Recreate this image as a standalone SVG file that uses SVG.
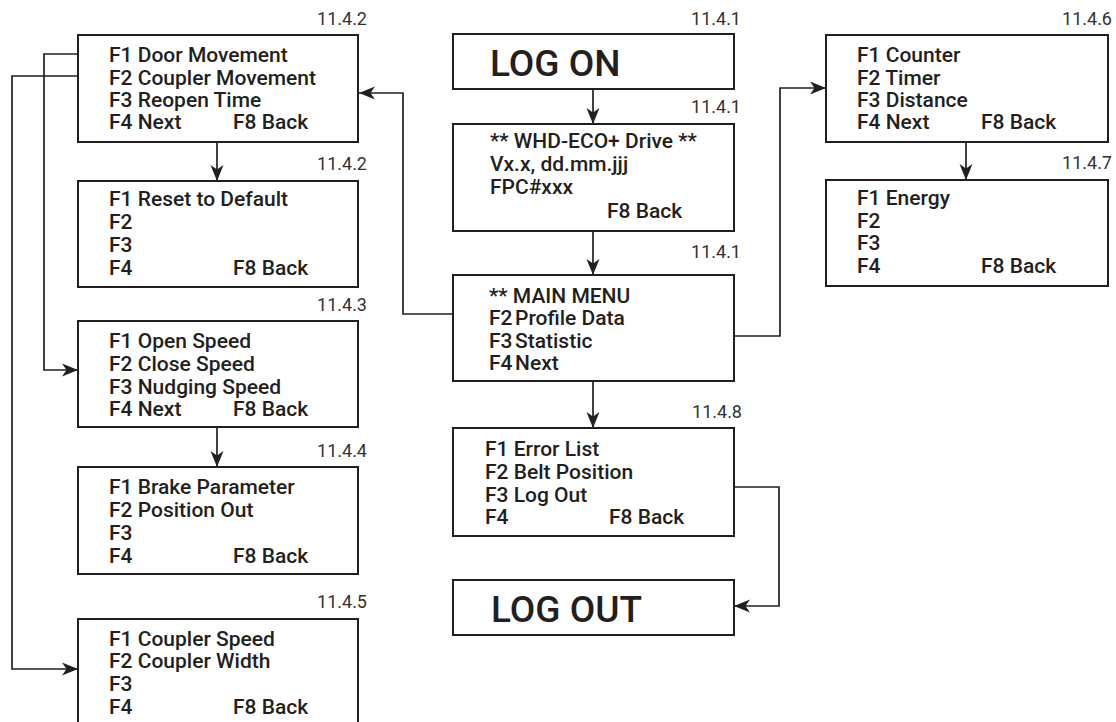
<svg xmlns="http://www.w3.org/2000/svg" width="1116" height="722" viewBox="0 0 1116 722">
  <style>
    .box { fill: #ffffff; stroke: #231f20; stroke-width: 2; }
    .wire { fill: none; stroke: #231f20; stroke-width: 1.7; }
    .t { font-family: Roboto, "Liberation Sans", sans-serif; font-weight: 500; font-size: 21px; fill: #231f20; }
    .big { font-family: Roboto, "Liberation Sans", sans-serif; font-weight: 500; font-size: 37px; fill: #231f20; }
    .ref { font-family: Roboto, "Liberation Sans", sans-serif; font-weight: 400; font-size: 18px; fill: #333333; text-anchor: end; }
  </style>
  <defs>
    <marker id="arrow" viewBox="-18 -8 19 16" refX="0" refY="0" markerWidth="19" markerHeight="16" markerUnits="userSpaceOnUse" orient="auto">
      <path d="M0,0 L-16,-6.5 L-11.5,0 L-16,6.5 Z" fill="#231f20"/>
    </marker>
  </defs>
  <rect width="1116" height="722" fill="#ffffff"/>

  <!-- connectors -->
  <g id="connectors">
    <line class="wire" x1="593" y1="89" x2="593" y2="124" marker-end="url(#arrow)"/>
    <line class="wire" x1="593" y1="231" x2="593" y2="275" marker-end="url(#arrow)"/>
    <line class="wire" x1="593" y1="381" x2="593" y2="428" marker-end="url(#arrow)"/>
    <line class="wire" x1="217" y1="142" x2="217" y2="181" marker-end="url(#arrow)"/>
    <line class="wire" x1="217" y1="427" x2="217" y2="467" marker-end="url(#arrow)"/>
    <line class="wire" x1="966" y1="142" x2="966" y2="180" marker-end="url(#arrow)"/>
    <polyline class="wire" points="453,314 403,314 403,93 359,93" marker-end="url(#arrow)"/>
    <polyline class="wire" points="734,336 780,336 780,88 826,88" marker-end="url(#arrow)"/>
    <polyline class="wire" points="734,487 779,487 779,606 734,606" marker-end="url(#arrow)"/>
    <polyline class="wire" points="78,54 44,54 44,370 78,370" marker-end="url(#arrow)"/>
    <polyline class="wire" points="78,76 12,76 12,669 78,669" marker-end="url(#arrow)"/>
  </g>

  <!-- left column -->
  <g id="door-menu">
    <rect class="box" x="78" y="35" width="280" height="107"/>
    <text class="ref" x="367" y="25">11.4.2</text>
    <text class="t" x="109" y="62">F1 Door Movement</text>
    <text class="t" x="109" y="85">F2 Coupler Movement</text>
    <text class="t" x="109" y="107">F3 Reopen Time</text>
    <text class="t" x="109" y="129">F4 Next</text>
    <text class="t" x="233" y="129">F8 Back</text>
  </g>
  <g id="reset-menu">
    <rect class="box" x="78" y="181" width="280" height="106"/>
    <text class="ref" x="367" y="170">11.4.2</text>
    <text class="t" x="109" y="206">F1 Reset to Default</text>
    <text class="t" x="109" y="229">F2</text>
    <text class="t" x="109" y="252">F3</text>
    <text class="t" x="109" y="275">F4</text>
    <text class="t" x="233" y="275">F8 Back</text>
  </g>
  <g id="speed-menu">
    <rect class="box" x="78" y="321" width="280" height="106"/>
    <text class="ref" x="367" y="311">11.4.3</text>
    <text class="t" x="109" y="348">F1 Open Speed</text>
    <text class="t" x="109" y="371">F2 Close Speed</text>
    <text class="t" x="109" y="394">F3 Nudging Speed</text>
    <text class="t" x="109" y="416">F4 Next</text>
    <text class="t" x="233" y="416">F8 Back</text>
  </g>
  <g id="brake-menu">
    <rect class="box" x="78" y="467" width="280" height="107"/>
    <text class="ref" x="367" y="457">11.4.4</text>
    <text class="t" x="109" y="494">F1 Brake Parameter</text>
    <text class="t" x="109" y="517">F2 Position Out</text>
    <text class="t" x="109" y="540">F3</text>
    <text class="t" x="109" y="563">F4</text>
    <text class="t" x="233" y="563">F8 Back</text>
  </g>
  <g id="coupler-menu">
    <rect class="box" x="78" y="619" width="280" height="110"/>
    <text class="ref" x="367" y="608">11.4.5</text>
    <text class="t" x="109" y="646">F1 Coupler Speed</text>
    <text class="t" x="109" y="668">F2 Coupler Width</text>
    <text class="t" x="109" y="691">F3</text>
    <text class="t" x="109" y="714">F4</text>
    <text class="t" x="233" y="714">F8 Back</text>
  </g>

  <!-- centre column -->
  <g id="log-on">
    <rect class="box" x="453" y="34" width="281" height="55"/>
    <text class="ref" x="741" y="25">11.4.1</text>
    <text class="big" x="490" y="76">LOG ON</text>
  </g>
  <g id="drive-info">
    <rect class="box" x="453" y="124" width="281" height="107"/>
    <text class="ref" x="741" y="113">11.4.1</text>
    <text class="t" x="490" y="148">** WHD-ECO+ Drive **</text>
    <text class="t" x="490" y="171">Vx.x, dd.mm.jjj</text>
    <text class="t" x="490" y="194">FPC#xxx</text>
    <text class="t" x="607" y="218">F8 Back</text>
  </g>
  <g id="main-menu">
    <rect class="box" x="453" y="275" width="281" height="106"/>
    <text class="ref" x="741" y="258">11.4.1</text>
    <text class="t" x="489" y="303">** MAIN MENU</text>
    <text class="t" x="489" y="325">F2<tspan x="515">Profile Data</tspan></text>
    <text class="t" x="489" y="348">F3<tspan x="515">Statistic</tspan></text>
    <text class="t" x="489" y="370">F4<tspan x="515">Next</tspan></text>
  </g>
  <g id="error-menu">
    <rect class="box" x="453" y="428" width="281" height="108"/>
    <text class="ref" x="742" y="418">11.4.8</text>
    <text class="t" x="485" y="456">F1 Error List</text>
    <text class="t" x="485" y="479">F2 Belt Position</text>
    <text class="t" x="485" y="502">F3 Log Out</text>
    <text class="t" x="485" y="524">F4</text>
    <text class="t" x="609" y="524">F8 Back</text>
  </g>
  <g id="log-out">
    <rect class="box" x="453" y="580" width="281" height="55"/>
    <text class="big" x="491" y="622">LOG OUT</text>
  </g>

  <!-- right column -->
  <g id="statistic-menu">
    <rect class="box" x="826" y="35" width="282" height="107"/>
    <text class="ref" x="1112" y="25">11.4.6</text>
    <text class="t" x="857" y="62">F1 Counter</text>
    <text class="t" x="857" y="85">F2 Timer</text>
    <text class="t" x="857" y="107">F3 Distance</text>
    <text class="t" x="857" y="129">F4 Next</text>
    <text class="t" x="981" y="129">F8 Back</text>
  </g>
  <g id="energy-menu">
    <rect class="box" x="826" y="180" width="282" height="106"/>
    <text class="ref" x="1112" y="169">11.4.7</text>
    <text class="t" x="857" y="205">F1 Energy</text>
    <text class="t" x="857" y="228">F2</text>
    <text class="t" x="857" y="250">F3</text>
    <text class="t" x="857" y="273">F4</text>
    <text class="t" x="981" y="273">F8 Back</text>
  </g>
</svg>
